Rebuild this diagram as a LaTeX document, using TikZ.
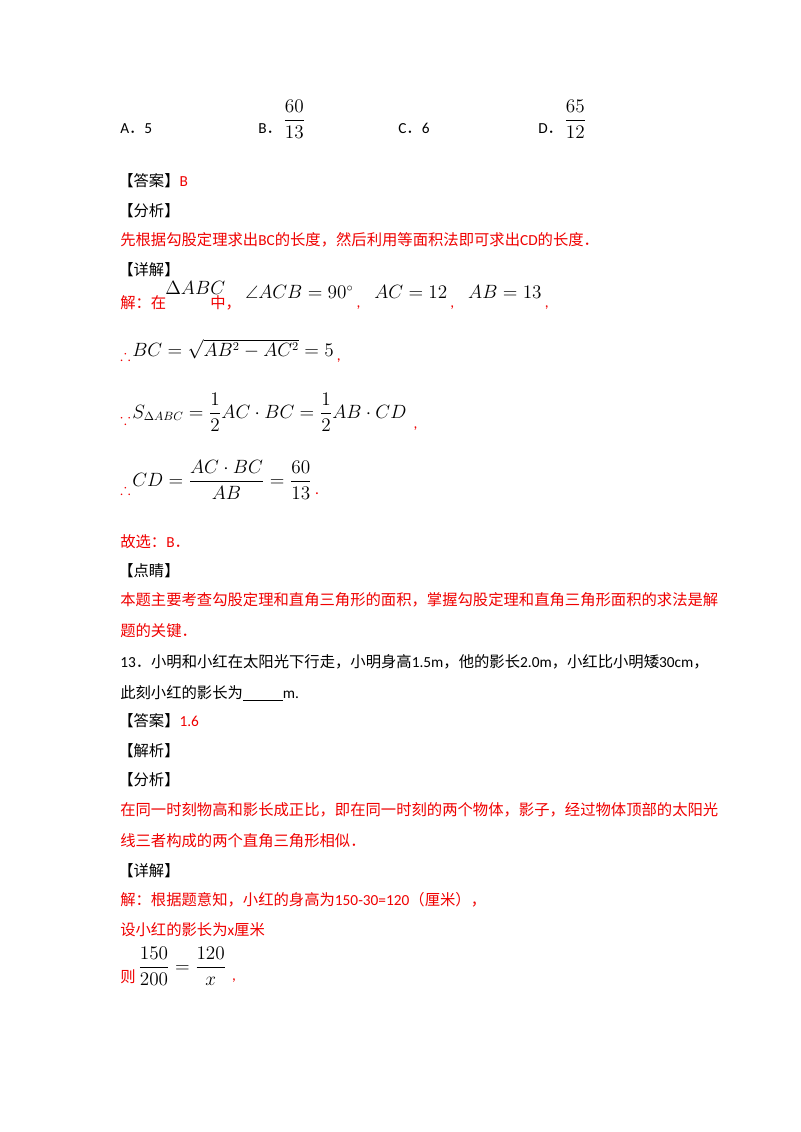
\documentclass[tikz,border=0pt]{standalone}
\usepackage{fontspec}
\usepackage{amsmath,amssymb}
\setmainfont{Carlito}
\newfontfamily\cjk{Noto Sans CJK SC}
\definecolor{rd}{RGB}{240,0,0}
\newcommand{\fp}{{\cjk ．}}
\begin{document}
\begin{tikzpicture}[x=0.75pt,y=-0.75pt,
  t/.style={anchor=base west,inner sep=0pt,font=\fontsize{11.5}{13}\selectfont},
  r/.style={t,text=rd},
  m/.style={t,font=\fontsize{13.5}{16}\selectfont}]
\useasboundingbox (0,0) rectangle (800,1132);
\fill[white] (0,0) rectangle (800,1132);
% options
\node[t] (oa) at (120,133) {A\fp 5};
\node[t] (ob) at (258,133) {B\fp};
\node[m] (obf) at (283,125) {$\dfrac{60}{13}$};
\node[t] (oc) at (398,133) {C\fp 6};
\node[t] (od) at (538,133) {D\fp};
\node[m] (odf) at (564,125) {$\dfrac{65}{12}$};
\node[t] (a1) at (118,186) {\cjk【答案】\textcolor{rd}{\normalfont B}};
\node[t] (a2) at (118,216) {\cjk【分析】};
\node[r] (a3) at (120,245) {\cjk 先根据勾股定理求出\normalfont BC\cjk 的长度，然后利用等面积法即可求出\normalfont CD\cjk 的长度．};
\node[t] (a4) at (118,275) {\cjk【详解】};
\node[r] (a5) at (120,308) {\cjk 解：在};
\node[m] (a5m) at (165,294) {$\Delta ABC$};
\node[r] (a5b) at (210,308) {\cjk 中，};
\node[m] (a5c) at (245,298) {$\angle ACB=90^\circ$};
\node[r] (c1) at ([xshift=2pt,yshift=-7pt]a5c.base east) {,};
\node[m] (a5d) at ([xshift=10pt,yshift=7pt]c1.base east) {$AC=12$};
\node[r] (c2) at ([xshift=2pt,yshift=-7pt]a5d.base east) {,};
\node[m] (a5e) at ([xshift=10pt,yshift=7pt]c2.base east) {$AB=13$};
\node[r] (c3) at ([xshift=2pt,yshift=-7pt]a5e.base east) {,};
\node[r] (b1) at (120,360) {$\therefore$};
\node[m] (b1m) at (132,356) {$BC=\sqrt{AB^2-AC^2}=5$};
\node[r] (b1c) at ([xshift=2pt,yshift=-3pt]b1m.base east) {,};
\node[r] (d1) at (120,424) {$\because$};
\node[m] (d1m) at (132,418) {$S_{\Delta ABC}=\dfrac12AC\cdot BC=\dfrac12AB\cdot CD$};
\node[r] (d1c) at ([xshift=5pt,yshift=-8pt]d1m.base east) {,};
\node[r] (e1) at (120,494) {$\therefore$};
\node[m] (e1m) at (132,486) {$CD=\dfrac{AC\cdot BC}{AB}=\dfrac{60}{13}$};
\node[r] (e1c) at ([xshift=2pt,yshift=-6pt]e1m.base east) {.};
\node[r] (f1) at (120,547) {\cjk 故选：\normalfont B\fp};
\node[t] (f2) at (118,576) {\cjk【点睛】};
\node[r] (f3) at (120,605) {\cjk 本题主要考查勾股定理和直角三角形的面积，掌握勾股定理和直角三角形面积的求法是解};
\node[r] (f4) at (120,636) {\cjk 题的关键．};
\node[t] (q1) at (120,667) {13\fp\cjk 小明和小红在太阳光下行走，小明身高\normalfont 1.5m\cjk ，他的影长\normalfont 2.0m\cjk ，小红比小明矮\normalfont 30cm\cjk ，};
\node[t] (q2) at (120,698) {\cjk 此刻小红的影长为\normalfont\underline{\hspace{2.6em}}m.};
\node[t] (g1) at (118,726) {\cjk【答案】\textcolor{rd}{\normalfont 1.6}};
\node[t] (g2) at (118,756) {\cjk【解析】};
\node[t] (g3) at (118,785) {\cjk【分析】};
\node[r] (g4) at (120,815) {\cjk 在同一时刻物高和影长成正比，即在同一时刻的两个物体，影子，经过物体顶部的太阳光};
\node[r] (g5) at (120,846) {\cjk 线三者构成的两个直角三角形相似．};
\node[t] (g6) at (118,876) {\cjk【详解】};
\node[r] (g7) at (120,905) {\cjk 解：根据题意知，小红的身高为\normalfont 150-30=120\cjk （厘米），};
\node[r] (g8) at (120,935) {\cjk 设小红的影长为\normalfont x\cjk 厘米};
\node[r] (g9) at (120,982) {\cjk 则};
\node[m] (g9m) at (138,972) {$\dfrac{150}{200}=\dfrac{120}{x}$};
\node[r] (g9c) at ([xshift=4pt,yshift=-6pt]g9m.base east) {,};
\end{tikzpicture}
\end{document}
